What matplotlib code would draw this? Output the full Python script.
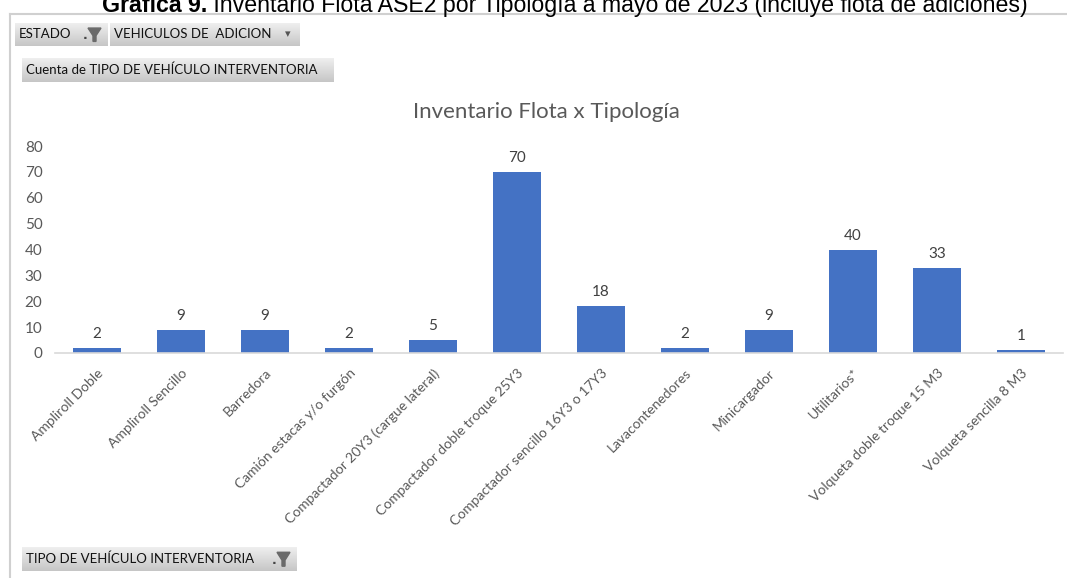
import numpy as np
import matplotlib
matplotlib.use("Agg")
import matplotlib.pyplot as plt
from matplotlib.patches import Polygon
from matplotlib.lines import Line2D
import matplotlib.transforms as mtransforms

categorias = ["Ampliroll Doble", "Ampliroll Sencillo", "Barredora",
              "Camión estacas y/o furgón", "Compactador 20Y3 (cargue lateral)",
              "Compactador doble troque 25Y3", "Compactador sencillo 16Y3 o 17Y3",
              "Lavacontenedores", "Minicargador", "Utilitarios*",
              "Volqueta doble troque 15 M3", "Volqueta sencilla 8 M3"]
cantidades = [2, 9, 9, 2, 5, 70, 18, 2, 9, 40, 33, 1]
y_ticks = [0, 10, 20, 30, 40, 50, 60, 70, 80]

W, H = 1067, 578
fig = plt.figure(figsize=(W / 100, H / 100), dpi=100)
fig.patch.set_facecolor("white")

def fx(px):
    return px / W

def fy(py):
    return 1 - py / H

# marco gris de la tabla dinamica
fig.add_artist(Line2D([fx(10), fx(10)], [fy(14), fy(578)], color="#d0d0d0", lw=1.5))
fig.add_artist(Line2D([fx(10), fx(1067)], [fy(14), fy(14)], color="#d0d0d0", lw=1.5))

# titulo cortado arriba (parte en negrita + resto)
renderer = fig.canvas.get_renderer()
t1 = fig.text(0, fy(12), "Gráfica 9.", ha="left", va="baseline", fontsize=16.7,
              family="Liberation Sans", fontweight="bold", color="black")
t2 = fig.text(0, fy(12), " Inventario Flota ASE2 por Tipología a mayo de 2023 (incluye flota de adiciones)",
              ha="left", va="baseline", fontsize=16.7, family="Liberation Sans", color="black")
w1 = t1.get_window_extent(renderer).width
w2 = t2.get_window_extent(renderer).width
x0 = 565 - (w1 + w2) / 2
t1.set_x(fx(x0))
t2.set_x(fx(x0 + w1))

grad = np.linspace(0, 1, 50).reshape(-1, 1)
cmap_btn = matplotlib.colors.LinearSegmentedColormap.from_list("g", ["#efefef", "#c6c6c6"])

def boton(x0, y0, x1, y1, texto, icono=None):
    bx = fig.add_axes([fx(x0), fy(y1), fx(x1 - x0), (y1 - y0) / H])
    bx.imshow(grad, aspect="auto", cmap=cmap_btn, extent=[0, 1, 0, 1], origin="upper")
    bx.set_xlim(0, 1)
    bx.set_ylim(0, 1)
    bx.axis("off")
    bx.text(4 / (x1 - x0), 0.5, texto, ha="left", va="center", fontsize=9.5, family="Lato", color="#111111")
    w = x1 - x0
    if icono == "filtro":
        cx = (w - 14) / w
        s = 1 / w
        bx.add_patch(Polygon([[cx - 6 * s, 0.78], [cx + 7 * s, 0.78], [cx + 2 * s, 0.45], [cx + 2 * s, 0.2],
                              [cx - 1 * s, 0.2], [cx - 1 * s, 0.45]], closed=True, color="#6a6a6a"))
        bx.text(cx - 9 * s, 0.45, ".", ha="center", va="center", fontsize=9, color="#444444", fontweight="bold")
    elif icono == "flecha":
        bx.text((w - 12) / w, 0.5, "▾", ha="center", va="center", fontsize=8, color="#555555", family="DejaVu Sans")

boton(15, 23, 108, 46, "ESTADO", "filtro")
boton(110, 23, 300, 46, "VEHICULOS DE  ADICION", "flecha")
boton(22, 58, 334, 82, "Cuenta de TIPO DE VEHÍCULO INTERVENTORIA")
boton(22, 547, 297, 571, "TIPO DE VEHÍCULO INTERVENTORIA", "filtro")

# grafico principal
ax = fig.add_axes([fx(55), fy(353), fx(1063 - 55), (353 - 146) / H])
x = np.arange(len(categorias))
ax.bar(x, cantidades, width=0.57, color="#4472C4", zorder=2)
ax.set_xlim(-0.5, len(categorias) - 0.5)
ax.set_ylim(0, 80)
ax.set_yticks(y_ticks)
ax.tick_params(axis="y", length=0, labelsize=11, labelcolor="#595959", pad=9)
for lab in ax.get_yticklabels():
    lab.set_family("Lato")
ax.set_xticks(x)
ax.set_xticklabels(categorias, rotation=45, ha="right", va="top", rotation_mode="anchor",
                   fontsize=10, color="#595959", family="Lato")
offset = mtransforms.ScaledTranslation(10 / 100, 6 / 100, fig.dpi_scale_trans)
for lab in ax.get_xticklabels():
    lab.set_transform(lab.get_transform() + offset)
ax.tick_params(axis="x", length=0, pad=10)
for s in ["top", "right", "left"]:
    ax.spines[s].set_visible(False)
ax.spines["bottom"].set_color("#d9d9d9")
ax.spines["bottom"].set_linewidth(1.2)
ax.set_facecolor("none")

for xi, v in zip(x, cantidades):
    ax.annotate(str(v), (xi, v), xytext=(0, 5), textcoords="offset points",
                ha="center", va="bottom", fontsize=11, color="#404040", family="Lato")

fig.text(fx(546), fy(112), "Inventario Flota x Tipología", ha="center", va="center",
         fontsize=16, color="#595959", family="Lato")

fig.savefig("out.png", dpi=100)
